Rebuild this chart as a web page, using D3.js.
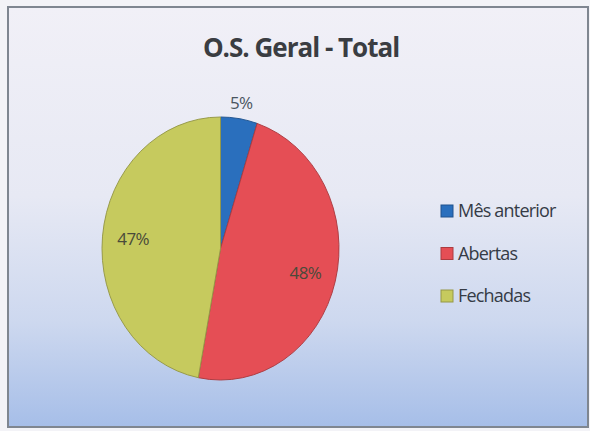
<!DOCTYPE html>
<html>
<head>
<meta charset="utf-8">
<script src="https://cdn.jsdelivr.net/npm/d3@7"></script>
<style>
  body { margin: 0; background: #fff; }
</style>
</head>
<body>
<div class="box"></div>
<script>
// data
const categories = ['Mês anterior', 'Abertas', 'Fechadas'];
const values = [5, 48, 47];
const colors = ['#2a6fbd', '#e54e55', '#c6ca5e'];
const title = 'O.S. Geral - Total';

const W = 590, H = 431;
const svg = d3.select('.box')
              .append('svg')
              .attr('width', W)
              .attr('height', H);

// background gradient
const defs = svg.append('defs');
const grad = defs.append('linearGradient')
                 .attr('id', 'bg')
                 .attr('x1', 0).attr('y1', 0).attr('x2', 0).attr('y2', 1);
grad.append('stop').attr('offset', '0%').attr('stop-color', '#f1f0f7');
grad.append('stop').attr('offset', '45%').attr('stop-color', '#e7e9f4');
grad.append('stop').attr('offset', '75%').attr('stop-color', '#cdd8ef');
grad.append('stop').attr('offset', '100%').attr('stop-color', '#a6bee8');

svg.append('rect')
   .attr('width', W).attr('height', H)
   .attr('fill', '#f3f3f7');

svg.append('rect')
   .attr('x', 8).attr('y', 7)
   .attr('width', 580).attr('height', 420)
   .attr('fill', 'url(#bg)')
   .attr('stroke', '#7f8690')
   .attr('stroke-width', 2);

// title
svg.append('text')
   .attr('x', 301).attr('y', 57)
   .attr('text-anchor', 'middle')
   .style('font-family', 'Open Sans, sans-serif')
   .style('font-weight', 'bold')
   .style('font-size', '26px')
   .style('letter-spacing', '-1px')
   .attr('fill', '#3a3d42')
   .text(title);

// pie (elliptical via scale)
const cx = 220.5, cy = 248.5, rx = 118.5, ry = 131.5;
const pie = d3.pie().sort(null).value(d => d)(values);
const arc = d3.arc().innerRadius(0).outerRadius(ry);

const graph = svg.append('g')
                 .attr('transform', `translate(${cx}, ${cy}) scale(${rx / ry}, 1)`);

graph.selectAll('path')
     .data(pie)
     .enter()
     .append('path')
     .attr('d', arc)
     .attr('fill', (d, i) => colors[i])
     .attr('stroke', (d, i) => d3.color(colors[i]).darker(0.8))
     .attr('stroke-width', 1);

// labels: small slices outside, others inside
function labelPos(d) {
  const k = d.data < 10 ? 1.12 : 0.74;
  const a = (d.startAngle + d.endAngle) / 2;
  return [cx + rx * k * Math.sin(a), cy - ry * k * Math.cos(a)];
}
svg.selectAll('text.lbl')
   .data(pie)
   .enter()
   .append('text')
   .attr('class', 'lbl')
   .attr('x', d => labelPos(d)[0])
   .attr('y', d => labelPos(d)[1])
   .attr('dy', '0.35em')
   .attr('text-anchor', 'middle')
   .style('font-family', 'Open Sans, sans-serif')
   .style('font-size', '17px')
   .style('letter-spacing', '-0.6px')
   .attr('fill', (d, i) => i === 0 ? '#4a5560' : '#4a4a3a')
   .text(d => d.data + '%');

// legend
const legend = svg.append('g').attr('transform', 'translate(441, 211)');
const rows = legend.selectAll('g')
                   .data(categories)
                   .enter()
                   .append('g')
                   .attr('transform', (d, i) => `translate(0, ${i * 42.5})`);
rows.append('rect')
    .attr('x', 0).attr('y', -6)
    .attr('width', 12).attr('height', 12)
    .attr('fill', (d, i) => colors[i])
    .attr('stroke', (d, i) => d3.color(colors[i]).darker(0.8));
rows.append('text')
    .attr('x', 17).attr('y', 0)
    .attr('dy', '0.35em')
    .style('font-family', 'Open Sans, sans-serif')
    .style('font-size', '18px')
    .style('letter-spacing', '-0.8px')
    .attr('fill', '#353b46')
    .text(d => d);
</script>
</body>
</html>
